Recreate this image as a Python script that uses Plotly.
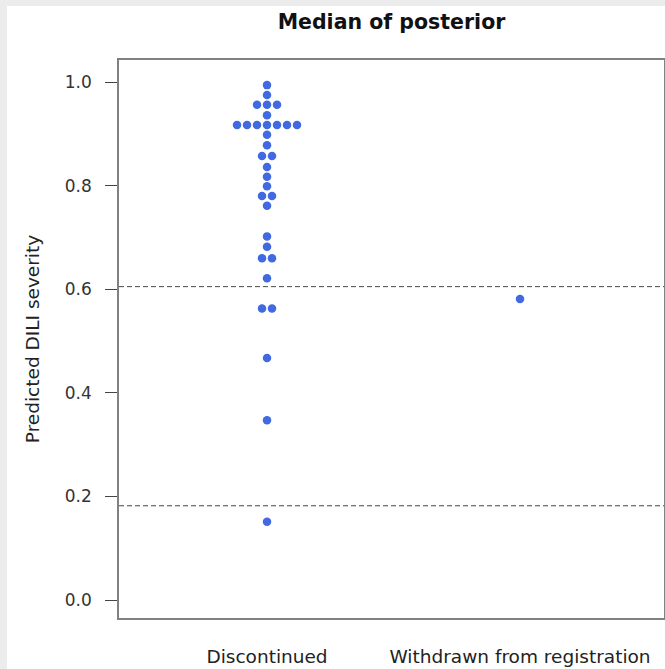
import plotly.graph_objects as go
from collections import Counter

# Posterior-median DILI severity per compound, grouped by outcome
categories = ["Discontinued", "Withdrawn from registration"]
discontinued = [0.994, 0.975, 0.956, 0.956, 0.956, 0.936,
                0.917, 0.917, 0.917, 0.917, 0.917, 0.917, 0.917,
                0.898, 0.878, 0.857, 0.857, 0.836, 0.817, 0.799,
                0.780, 0.780, 0.761, 0.702, 0.682, 0.660, 0.660,
                0.621, 0.563, 0.563, 0.467, 0.347, 0.151]
withdrawn = [0.581]
thresholds = [0.605, 0.182]
y_ticks = [0.0, 0.2, 0.4, 0.6, 0.8, 1.0]

DOT = "#4169E1"
FONT = "DejaVu Sans"


def swarm(values, center, step=0.0395):
    """Stack equal values side by side, centred on the category position."""
    xs, ys = [], []
    for v, n in Counter(values).items():
        for i in range(n):
            xs.append(center + (i - (n - 1) / 2) * step)
            ys.append(v)
    return xs, ys


fig = go.Figure()

for pos, vals in enumerate([discontinued, withdrawn], start=1):
    xs, ys = swarm(vals, pos)
    fig.add_trace(go.Scatter(
        x=xs, y=ys, mode="markers",
        marker=dict(size=8.5, color=DOT, line=dict(width=0)),
        showlegend=False, hoverinfo="y",
    ))

for t in thresholds:
    fig.add_hline(y=t, line=dict(color="#4a4a4a", width=1, dash="5px,3px"))

# light grey frame strips along the top and left edges of the page
W, H = 665, 669
ML, MR, MT, MB = 119, 1, 60, 51
pw, ph = W - ML - MR, H - MT - MB


def px_x(p):
    return (p - ML) / pw


def px_y(p):
    return (H - MB - p) / ph


fig.add_shape(type="rect", xref="paper", yref="paper",
              x0=px_x(0), x1=px_x(7), y0=px_y(H), y1=px_y(0),
              fillcolor="#ececec", line_width=0, layer="below")
fig.add_shape(type="rect", xref="paper", yref="paper",
              x0=px_x(0), x1=px_x(W), y0=px_y(6), y1=px_y(0),
              fillcolor="#ececec", line_width=0, layer="below")

fig.update_layout(
    width=W, height=H,
    margin=dict(l=ML, r=MR, t=MT, b=MB, autoexpand=False),
    paper_bgcolor="white", plot_bgcolor="white",
    font=dict(family=FONT, color="#222222"),
    title=dict(text="<b>Median of posterior</b>", x=0.5, xref="paper",
               xanchor="center", y=1 - 22 / H, yref="container",
               yanchor="middle", font=dict(size=20.5, color="#111111")),
)

fig.update_xaxes(
    range=[0.415, 2.569], tickmode="array", tickvals=[1, 2],
    ticktext=categories, ticks="", showgrid=False, zeroline=False,
    showline=True, mirror=True, linecolor="#808080", linewidth=1.5,
    tickfont=dict(size=18.5, color="#222222"), ticklabelstandoff=21,
)
fig.update_yaxes(
    range=[-0.0347, 1.0425], tickmode="array", tickvals=y_ticks,
    ticktext=[f"{v:.1f}" for v in y_ticks],
    ticks="outside", ticklen=12, tickcolor="#444444", tickwidth=1,
    showgrid=False, zeroline=False,
    showline=True, mirror=True, linecolor="#808080", linewidth=1.5,
    tickfont=dict(size=17, color="#333333"), ticklabelstandoff=10,
    title=dict(text="Predicted DILI severity", standoff=20,
               font=dict(size=18.5, color="#222222")),
)

fig.write_html("out.html")
